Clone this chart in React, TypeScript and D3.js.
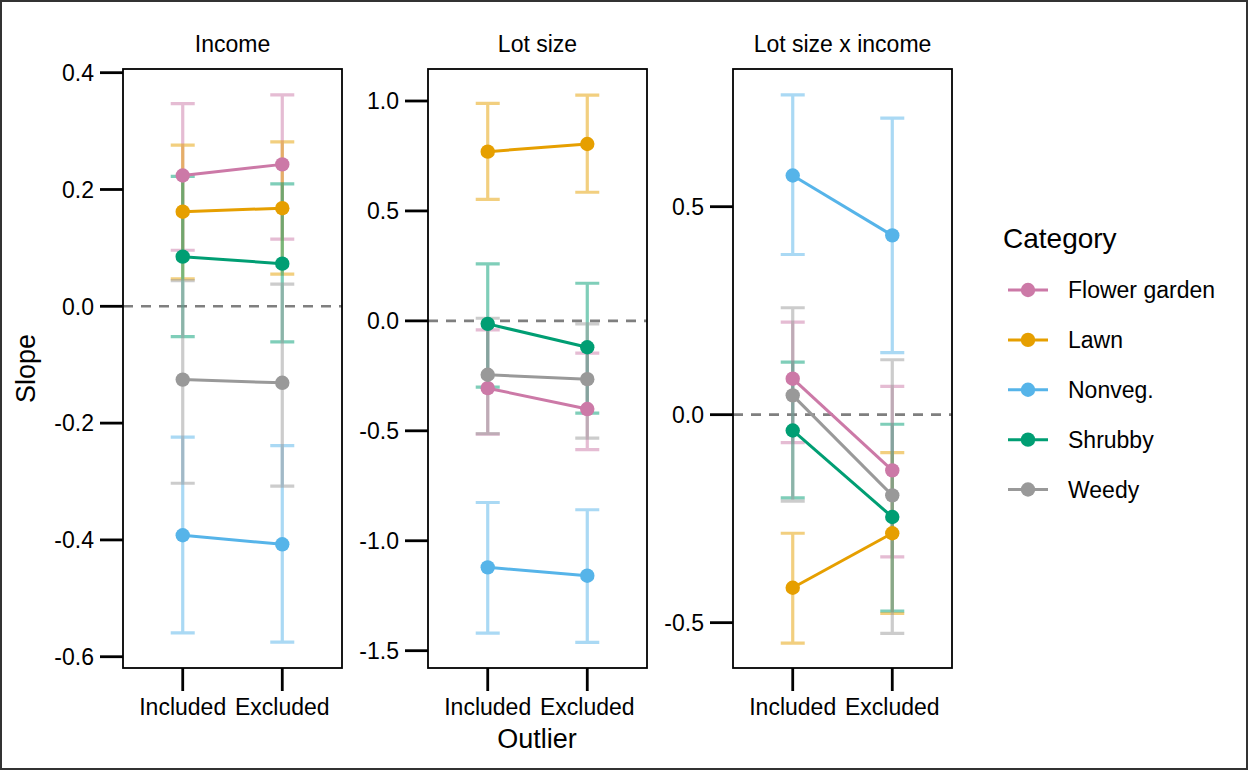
import React from "react";
import * as d3 from "d3";

// ---------- data ----------
const panelTitles = ["Income", "Lot size", "Lot size x income"];
const categories = ["Flower garden", "Lawn", "Nonveg.", "Shrubby", "Weedy"];
const outliers = ["Included", "Excluded"];
const colors = ["#CC79A7", "#E69F00", "#56B4E9", "#009E73", "#999999"];

// [category][outlier]
const incomeEst = [[0.224, 0.243], [0.162, 0.168], [-0.392, -0.4075], [0.085, 0.073], [-0.1255, -0.131]];
const incomeLo = [[0.096, 0.115], [0.047, 0.055], [-0.559, -0.575], [-0.052, -0.061], [-0.303, -0.308]];
const incomeHi = [[0.347, 0.362], [0.276, 0.2815], [-0.224, -0.2385], [0.2226, 0.2096], [0.044, 0.038]];

const lotEst = [[-0.306, -0.401], [0.7697, 0.8045], [-1.121, -1.159], [-0.0136, -0.12], [-0.245, -0.265]];
const lotLo = [[-0.515, -0.586], [0.553, 0.585], [-1.42, -1.462], [-0.301, -0.42], [-0.513, -0.533]];
const lotHi = [[-0.041, -0.147], [0.9895, 1.027], [-0.826, -0.859], [0.259, 0.171], [0.012, -0.0136]];

const liEst = [[0.0865, -0.134], [-0.416, -0.285], [0.575, 0.431], [-0.038, -0.246], [0.0464, -0.194]];
const liLo = [[-0.067, -0.342], [-0.549, -0.478], [0.385, 0.149], [-0.2, -0.472], [-0.208, -0.526]];
const liHi = [[0.2226, 0.068], [-0.285, -0.091], [0.769, 0.713], [0.1265, -0.023], [0.257, 0.132]];

const yDomains = [[-0.6193, 0.4063], [-1.5787, 1.1455], [-0.609, 0.831]];
const yTicks = [[0.4, 0.2, 0.0, -0.2, -0.4, -0.6], [1.0, 0.5, 0.0, -0.5, -1.0, -1.5], [0.5, 0.0, -0.5]];

const panelEst = [incomeEst, lotEst, liEst];
const panelLo = [incomeLo, lotLo, liLo];
const panelHi = [incomeHi, lotHi, liHi];

// ---------- layout ----------
const W = 1249;
const H = 772;
const FONT = "'Liberation Sans', Arial, Helvetica, sans-serif";
const panelLefts = [123, 428, 733];
const panelW = 219;
const panelTop = 69;
const panelBottom = 668;
const tickLen = 23;
const TEXT = 23;

function Panel({ idx }: { idx: number }) {
  const left = panelLefts[idx];
  const right = left + panelW;
  const x = d3.scalePoint<string>().domain(outliers).range([left, right]).padding(0.6);
  const y = d3.scaleLinear().domain(yDomains[idx]).range([panelBottom, panelTop]);
  const est = panelEst[idx];
  const lo = panelLo[idx];
  const hi = panelHi[idx];
  const fmt = (v: number) => d3.format(".1f")(v).replace("\u2212", "-");
  const line = d3
    .line<number>()
    .x((_, i) => x(outliers[i]) as number)
    .y((d) => y(d));
  const capHalf = 12;

  return (
    <g>
      <text x={(left + right) / 2} y={52} textAnchor="middle" fontSize={TEXT} fontFamily={FONT} fill="#000">
        {panelTitles[idx]}
      </text>
      {yTicks[idx].map((t) => (
        <g key={t}>
          <line x1={left - tickLen} x2={left} y1={y(t)} y2={y(t)} stroke="#000" strokeWidth={2.8} />
          <text
            x={left - tickLen - 6}
            y={y(t)}
            dy="0.36em"
            textAnchor="end"
            fontSize={TEXT}
            fontFamily={FONT}
            fill="#000"
          >
            {fmt(t)}
          </text>
        </g>
      ))}
      {outliers.map((o) => (
        <g key={o}>
          <line x1={x(o)} x2={x(o)} y1={panelBottom} y2={panelBottom + tickLen} stroke="#000" strokeWidth={2.8} />
          <text x={x(o)} y={715} textAnchor="middle" fontSize={TEXT} fontFamily={FONT} fill="#000">
            {o}
          </text>
        </g>
      ))}
      <line
        x1={left}
        x2={right}
        y1={y(0)}
        y2={y(0)}
        stroke="#7f7f7f"
        strokeWidth={2.6}
        strokeDasharray="10,8"
      />
      {categories.map((c, ci) => (
        <g key={c} stroke={colors[ci]} strokeOpacity={0.5} strokeWidth={3.2} fill="none">
          {outliers.map((o, oi) => {
            const cx = x(o) as number;
            const y1 = y(lo[ci][oi]);
            const y2 = y(hi[ci][oi]);
            return (
              <path
                key={o}
                d={`M${cx - capHalf},${y2}H${cx + capHalf}M${cx},${y2}V${y1}M${cx - capHalf},${y1}H${cx + capHalf}`}
              />
            );
          })}
        </g>
      ))}
      {categories.map((c, ci) => (
        <path key={c} d={line(est[ci]) as string} stroke={colors[ci]} strokeWidth={3} fill="none" />
      ))}
      {categories.map((c, ci) => (
        <g key={c} fill={colors[ci]}>
          {outliers.map((o, oi) => (
            <circle key={o} cx={x(o)} cy={y(est[ci][oi])} r={7.2} />
          ))}
        </g>
      ))}
      <rect
        x={left}
        y={panelTop}
        width={panelW}
        height={panelBottom - panelTop}
        fill="none"
        stroke="#000"
        strokeWidth={1.8}
      />
    </g>
  );
}

export default function App() {
  const legendY = d3.scaleLinear().domain([0, categories.length - 1]).range([290, 489.5]);
  return (
    <svg
      width={W}
      height={H}
      viewBox={`0 0 ${W} ${H}`}
      style={{ position: "absolute", left: 0, top: 0, display: "block" }}
    >
      <rect x={0} y={0} width={W} height={H} fill="#fff" />
      <rect x={1} y={1} width={1246} height={768} fill="none" stroke="#333" strokeWidth={2} />
      {panelTitles.map((_, i) => (
        <Panel key={i} idx={i} />
      ))}
      <text
        transform={`translate(35,${(panelTop + panelBottom) / 2}) rotate(-90)`}
        textAnchor="middle"
        fontSize={27}
        fontFamily={FONT}
        fill="#000"
      >
        Slope
      </text>
      <text x={537} y={748} textAnchor="middle" fontSize={27} fontFamily={FONT} fill="#000">
        Outlier
      </text>
      <text x={1003} y={248} fontSize={28} fontFamily={FONT} fill="#000">
        Category
      </text>
      {categories.map((c, ci) => (
        <g key={c}>
          <line x1={1008} x2={1048} y1={legendY(ci)} y2={legendY(ci)} stroke={colors[ci]} strokeWidth={3} />
          <circle cx={1028} cy={legendY(ci)} r={7.2} fill={colors[ci]} />
          <text x={1068} y={legendY(ci)} dy="0.36em" fontSize={TEXT} fontFamily={FONT} fill="#000">
            {c}
          </text>
        </g>
      ))}
    </svg>
  );
}
